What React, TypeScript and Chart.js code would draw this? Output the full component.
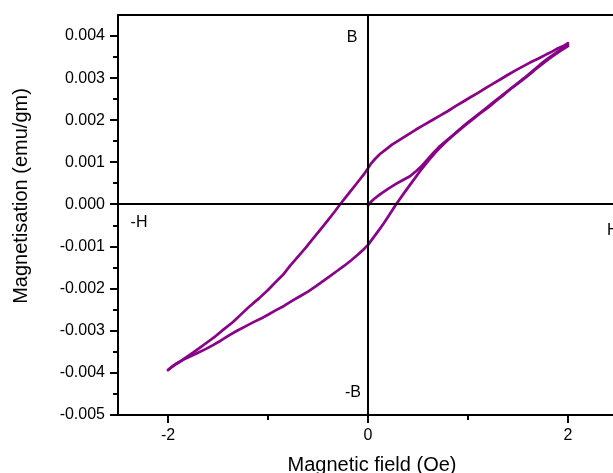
import React, { useEffect, useRef } from "react";
import { Chart, registerables } from "chart.js";

Chart.register(...registerables);

const FONT = "'Liberation Sans', Arial, Helvetica, sans-serif";
const CURVE_COLOR = "#870087";

const xAxisTitle = "Magnetic field (Oe)";
const yAxisTitle = "Magnetisation (emu/gm)";

const xMin = -2.5;
const xMax = 2.5;
const yMin = -0.005;
const yMax = 0.0045;

const xTickValues = [-2, 0, 2];
const xMinorTickValues = [-1, 1];
const yTickValues = [-0.005, -0.004, -0.003, -0.002, -0.001, 0, 0.001, 0.002, 0.003, 0.004];
const yMinorTickValues = [-0.0045, -0.0035, -0.0025, -0.0015, -0.0005, 0.0005, 0.0015, 0.0025, 0.0035];

// Initial magnetisation curve (from origin up to +2 Oe)
const initialField = [0.0, 0.02, 0.06, 0.12, 0.2, 0.28, 0.35, 0.42, 0.48, 0.54, 0.6, 0.66, 0.72, 0.8, 0.88, 0.96, 1.04, 1.12, 1.2, 1.28, 1.36, 1.44, 1.52, 1.6, 1.68, 1.76, 1.84, 1.92, 2.0];
const initialMag = [-0.00003, 0.00004, 0.00013, 0.00024, 0.00037, 0.00049, 0.00058, 0.00067, 0.00079, 0.00092, 0.00108, 0.00124, 0.00139, 0.00155, 0.0017, 0.00186, 0.00201, 0.00216, 0.0023, 0.00246, 0.00261, 0.00277, 0.00291, 0.00306, 0.00322, 0.00337, 0.00351, 0.00364, 0.00376];

// Descending branch (+2 Oe -> -2 Oe)
const descField = [2.0, 1.96, 1.9, 1.84, 1.78, 1.7, 1.62, 1.55, 1.48, 1.4, 1.33, 1.26, 1.18, 1.1, 1.02, 0.95, 0.88, 0.8, 0.72, 0.64, 0.56, 0.48, 0.4, 0.32, 0.24, 0.18, 0.12, 0.07, 0.03, 0.0, -0.04, -0.1, -0.16, -0.22, -0.28, -0.34, -0.4, -0.47, -0.55, -0.62, -0.7, -0.78, -0.85, -0.93, -1.0, -1.09, -1.18, -1.27, -1.35, -1.44, -1.52, -1.6, -1.68, -1.75, -1.82, -1.88, -1.94, -2.0];
const descMag = [0.00383, 0.00377, 0.00371, 0.00363, 0.00356, 0.00346, 0.00337, 0.00328, 0.00319, 0.00308, 0.00298, 0.00288, 0.00277, 0.00265, 0.00254, 0.00244, 0.00234, 0.00222, 0.00211, 0.002, 0.00189, 0.00178, 0.00166, 0.00154, 0.00142, 0.00131, 0.0012, 0.00108, 0.00097, 0.00086, 0.00072, 0.00054, 0.00036, 0.00018, 0.0, -0.00019, -0.00037, -0.00058, -0.00081, -0.00102, -0.00124, -0.00146, -0.00167, -0.00186, -0.00203, -0.00223, -0.00241, -0.00261, -0.00279, -0.00296, -0.00312, -0.00326, -0.0034, -0.00352, -0.00363, -0.00373, -0.00382, -0.00393];

// Ascending branch (-2 Oe -> +2 Oe)
const ascField = [-2.0, -1.96, -1.91, -1.85, -1.78, -1.7, -1.62, -1.55, -1.47, -1.39, -1.31, -1.23, -1.15, -1.07, -1.0, -0.92, -0.84, -0.76, -0.68, -0.6, -0.52, -0.45, -0.38, -0.31, -0.24, -0.17, -0.1, -0.05, 0.0, 0.05, 0.1, 0.16, 0.22, 0.28, 0.36, 0.44, 0.52, 0.6, 0.68, 0.76, 0.84, 0.92, 1.0, 1.08, 1.16, 1.24, 1.32, 1.4, 1.48, 1.56, 1.64, 1.72, 1.8, 1.88, 1.94, 2.0];
const ascMag = [-0.00393, -0.00385, -0.00377, -0.00369, -0.00361, -0.00352, -0.00343, -0.00334, -0.00323, -0.00311, -0.003, -0.0029, -0.0028, -0.00271, -0.00262, -0.00251, -0.00241, -0.00229, -0.00218, -0.00207, -0.00194, -0.00182, -0.0017, -0.00158, -0.00146, -0.00133, -0.00119, -0.00108, -0.00096, -0.0008, -0.00064, -0.00044, -0.00022, 0.0, 0.00027, 0.00053, 0.00079, 0.00103, 0.00125, 0.00144, 0.00162, 0.00179, 0.00195, 0.0021, 0.00225, 0.0024, 0.00255, 0.0027, 0.00285, 0.003, 0.00316, 0.00332, 0.00347, 0.0036, 0.0037, 0.00379];

const quadrantLabels = ["B", "-B", "-H", "H"];
const quadrantLabelField = [-0.16, -0.15, -2.29, 2.39];
const quadrantLabelMag = [0.00397, -0.00446, -0.00043, -0.00062];

const toPoints = (xs: number[], ys: number[]) => xs.map((x, i) => ({ x, y: ys[i] }));

const decorPlugin = {
  id: "decor",
  afterDatasetsDraw(chart: any) {
    const { ctx, chartArea, scales } = chart;
    const xs = scales.x;
    const ys = scales.y;
    const { left, right, top, bottom } = chartArea;
    const px = (v: number) => Math.round(xs.getPixelForValue(v));
    const py = (v: number) => Math.round(ys.getPixelForValue(v));
    ctx.save();
    ctx.strokeStyle = "#000";
    ctx.lineWidth = 2;
    ctx.lineCap = "butt";
    ctx.beginPath();
    // frame: left, bottom, top
    ctx.moveTo(left, top - 1);
    ctx.lineTo(left, bottom + 1);
    ctx.moveTo(left - 1, bottom);
    ctx.lineTo(right, bottom);
    ctx.moveTo(left - 1, top);
    ctx.lineTo(right, top);
    // zero lines
    const x0 = px(0);
    const y0 = py(0);
    ctx.moveTo(left, y0);
    ctx.lineTo(right, y0);
    ctx.moveTo(x0, top);
    ctx.lineTo(x0, bottom);
    // ticks
    yTickValues.forEach((v) => {
      const y = py(v);
      ctx.moveTo(left - 8, y);
      ctx.lineTo(left, y);
    });
    yMinorTickValues.forEach((v) => {
      const y = py(v);
      ctx.moveTo(left - 5, y);
      ctx.lineTo(left, y);
    });
    xTickValues.forEach((v) => {
      const x = px(v);
      ctx.moveTo(x, bottom);
      ctx.lineTo(x, bottom + 8);
    });
    xMinorTickValues.forEach((v) => {
      const x = px(v);
      ctx.moveTo(x, bottom);
      ctx.lineTo(x, bottom + 5);
    });
    ctx.stroke();

    // quadrant labels
    ctx.fillStyle = "#000";
    ctx.font = `16px ${FONT}`;
    ctx.textBaseline = "middle";
    quadrantLabels.forEach((t, i) => {
      ctx.textAlign = t === "H" ? "left" : "center";
      ctx.fillText(t, xs.getPixelForValue(quadrantLabelField[i]), ys.getPixelForValue(quadrantLabelMag[i]));
    });

    // axis titles
    ctx.font = `20px ${FONT}`;
    ctx.textAlign = "center";
    ctx.textBaseline = "alphabetic";
    ctx.fillText(xAxisTitle, (left + right) / 2 + 4, 471);
    ctx.translate(27, (top + bottom) / 2 - 19);
    ctx.rotate(-Math.PI / 2);
    ctx.fillText(yAxisTitle, 0, 0);
    ctx.restore();
  },
};

export default function App() {
  const canvasRef = useRef<HTMLCanvasElement | null>(null);

  useEffect(() => {
    const canvas = canvasRef.current;
    if (!canvas) return;
    const chart = new Chart(canvas, {
      type: "scatter",
      data: {
        datasets: [
          { label: "initial", data: toPoints(initialField, initialMag) },
          { label: "descending", data: toPoints(descField, descMag) },
          { label: "ascending", data: toPoints(ascField, ascMag) },
        ].map((d) => ({
          ...d,
          showLine: true,
          borderColor: CURVE_COLOR,
          backgroundColor: CURVE_COLOR,
          borderWidth: 2.7,
          pointRadius: 0,
          pointHoverRadius: 0,
          tension: 0,
          borderJoinStyle: "round" as const,
          borderCapStyle: "round" as const,
        })),
      },
      options: {
        responsive: false,
        animation: false,
        events: [],
        layout: { padding: { top: 15, right: 12, left: 0, bottom: 0 } },
        plugins: {
          legend: { display: false },
          tooltip: { enabled: false },
        },
        scales: {
          x: {
            type: "linear",
            min: xMin,
            max: xMax,
            grid: { display: false, drawTicks: false },
            border: { display: false },
            afterBuildTicks: (scale: any) => {
              scale.ticks = xTickValues.map((v) => ({ value: v }));
            },
            afterFit: (scale: any) => {
              scale.height = 58;
              scale.paddingLeft = 0;
              scale.paddingRight = 0;
            },
            ticks: {
              padding: 11,
              color: "#000",
              font: { family: FONT, size: 16 },
              maxRotation: 0,
              callback: (v: any) => String(v),
            },
          },
          y: {
            type: "linear",
            min: yMin,
            max: yMax,
            grid: { display: false, drawTicks: false },
            border: { display: false },
            afterBuildTicks: (scale: any) => {
              scale.ticks = yTickValues.map((v) => ({ value: v }));
            },
            afterFit: (scale: any) => {
              scale.width = 118;
              scale.paddingTop = 0;
              scale.paddingBottom = 0;
            },
            ticks: {
              padding: 13,
              color: "#000",
              font: { family: FONT, size: 16 },
              callback: (v: any) => Number(v).toFixed(3),
            },
          },
        },
      },
      plugins: [decorPlugin],
    });
    return () => chart.destroy();
  }, []);

  return (
    <div style={{ position: "fixed", left: 0, top: 0, width: 630, height: 473, background: "#fff" }}>
      <canvas ref={canvasRef} width={630} height={473} style={{ display: "block" }} />
    </div>
  );
}
